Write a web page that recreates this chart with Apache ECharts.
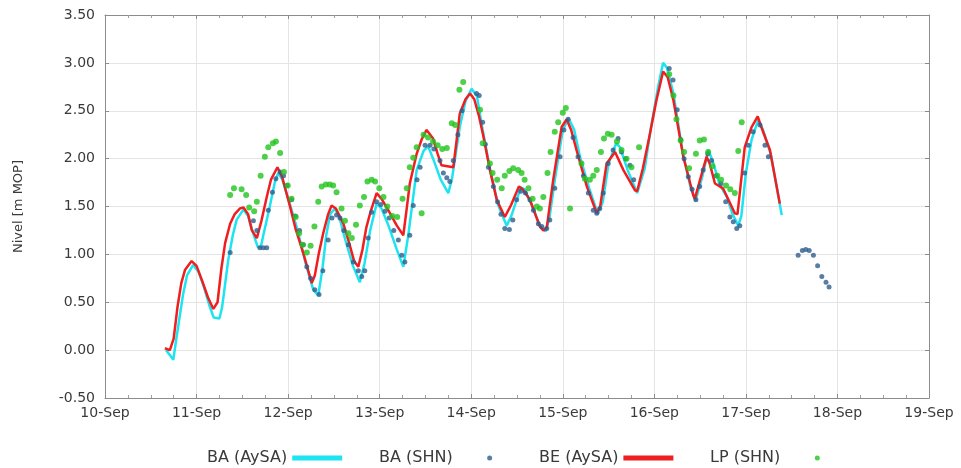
<!DOCTYPE html>
<html>
<head>
<meta charset="utf-8">
<script src="https://cdn.jsdelivr.net/npm/echarts@6/dist/echarts.min.js"></script>
<style>html,body{margin:0;padding:0;background:#fff}#c{width:961px;height:468px}</style>
</head>
<body>
<div id="c"></div>
<script>
// x values: hours since 10-Sep 00:00
var tickLabels = ['10-Sep','11-Sep','12-Sep','13-Sep','14-Sep','15-Sep','16-Sep','17-Sep','18-Sep','19-Sep'];
var seriesNames = ['BA (AySA)','BA (SHN)','BE (AySA)','LP (SHN)'];

var baAysa = [[16,0.0],[17,-0.05],[17.9,-0.10],[19,0.2],[20.5,0.59],[21.5,0.78],[23.1,0.89],[24.5,0.82],[26,0.65],[27.5,0.45],[28.5,0.34],[30,0.33],[30.7,0.45],[32.3,0.94],[33.5,1.2],[34.5,1.36],[36.3,1.47],[37.5,1.4],[39,1.2],[40,1.08],[40.8,1.07],[41.5,1.2],[43.2,1.5],[44.5,1.75],[45.4,1.85],[46.5,1.78],[48.5,1.52],[50.5,1.25],[52.5,0.92],[54.6,0.63],[55.9,0.57],[57,0.85],[58,1.2],[59,1.42],[60.3,1.48],[61.5,1.38],[63,1.15],[65,0.88],[66.8,0.71],[68,0.9],[69.5,1.25],[71.2,1.53],[72.5,1.48],[74.5,1.28],[76.5,1.05],[78.2,0.87],[79.5,1.2],[81.7,1.88],[83.5,2.08],[84.7,2.13],[86,2.0],[88,1.78],[90,1.64],[91,1.8],[93,2.33],[94.5,2.6],[96.1,2.73],[97.5,2.65],[99,2.3],[101,1.88],[103,1.52],[105.3,1.30],[106.5,1.4],[109,1.70],[110,1.68],[112,1.5],[114,1.3],[115.5,1.24],[116.5,1.38],[118,1.8],[120,2.3],[121.5,2.42],[123,2.3],[124.5,2.02],[127,1.68],[129.2,1.42],[130.5,1.55],[132,1.95],[134,2.16],[135,2.12],[137,1.88],[139.5,1.64],[141.5,1.9],[143,2.3],[145,2.75],[146.3,3.0],[147.3,2.95],[149,2.68],[151.5,2.05],[153.5,1.7],[154.8,1.56],[156.5,1.8],[158.2,2.09],[159.5,1.95],[161,1.74],[163,1.6],[164.5,1.42],[166,1.30],[166.8,1.4],[168,1.85],[169.5,2.2],[171.2,2.40],[172.5,2.3],[174.5,2.05],[177.4,1.41]];

var beAysa = [[15.7,0.02],[17,0.0],[18,0.12],[19,0.45],[20,0.7],[21,0.84],[22.7,0.93],[24,0.88],[25.5,0.72],[27,0.55],[28.4,0.43],[29.5,0.5],[30.5,0.85],[31.5,1.12],[32.8,1.32],[34,1.42],[35.4,1.48],[36.3,1.49],[37.5,1.42],[38.5,1.25],[39.8,1.17],[41,1.35],[42.4,1.6],[43.5,1.78],[45.2,1.91],[46.5,1.8],[48.5,1.5],[50,1.26],[52,1.01],[53.5,0.8],[54.2,0.70],[55,0.78],[56,1.0],[57.2,1.22],[58.5,1.42],[59.4,1.51],[60.5,1.48],[62.5,1.32],[64,1.12],[65.3,0.93],[66.4,0.87],[67.5,1.05],[68.5,1.28],[69.5,1.43],[71.2,1.64],[72.5,1.58],[74.7,1.43],[76.5,1.30],[78.2,1.20],[79,1.45],[79.9,1.74],[81.7,2.05],[83,2.2],[84.3,2.30],[86,2.21],[87.2,2.05],[88.2,1.93],[91.3,1.91],[92.2,2.2],[93,2.47],[94.5,2.62],[95.7,2.68],[96.8,2.62],[98,2.45],[99.2,2.23],[100.9,1.88],[102.7,1.57],[104.8,1.39],[106.5,1.52],[108.5,1.71],[109.5,1.68],[111.4,1.57],[114,1.29],[114.9,1.25],[115.8,1.28],[117.5,1.78],[119.7,2.33],[121,2.41],[122.2,2.30],[123.6,2.09],[126.3,1.71],[128.9,1.43],[129.8,1.5],[131.5,1.95],[133.7,2.07],[135.9,1.88],[138.9,1.67],[139.5,1.66],[141,1.9],[142.8,2.25],[144.5,2.6],[146.3,2.91],[147.5,2.85],[149,2.61],[151.6,2.02],[154.2,1.62],[154.6,1.58],[156,1.78],[157.7,2.02],[158.5,1.95],[159.9,1.74],[162,1.69],[165.1,1.43],[165.8,1.42],[167.7,2.12],[169.5,2.33],[171.1,2.44],[172.5,2.28],[174.3,2.09],[176.9,1.53]];

var baShn = [[32.8,1.02],[38.9,1.35],[39.8,1.25],[40.6,1.07],[41.5,1.07],[42.4,1.07],[42.8,1.46],[43.9,1.65],[44.8,1.79],[45.9,1.86],[46.8,1.82],[47.7,1.72],[48.9,1.57],[49.9,1.40],[51,1.25],[52,1.10],[52.9,0.87],[53.9,0.75],[55,0.63],[56.1,0.58],[57.1,0.83],[58.5,1.15],[59.5,1.38],[60.7,1.41],[61.6,1.38],[62.6,1.25],[63.8,1.10],[65.1,0.92],[66.4,0.83],[67.3,0.77],[68.1,0.83],[69,1.17],[69.9,1.44],[71.2,1.55],[72.3,1.52],[73.4,1.45],[74.5,1.38],[75.7,1.25],[76.9,1.15],[77.8,0.99],[78.6,0.92],[79.9,1.20],[80.8,1.51],[81.8,1.78],[82.6,1.91],[83.9,2.14],[85.2,2.14],[86.2,2.10],[87.8,1.98],[88.7,1.85],[89.6,1.80],[90.4,1.76],[91.3,1.98],[92.5,2.25],[93.6,2.50],[97.4,2.68],[98.1,2.66],[99,2.38],[99.7,2.15],[100.5,1.91],[101.8,1.71],[102.9,1.55],[103.8,1.42],[104.8,1.27],[106,1.26],[106.9,1.36],[107.9,1.57],[109,1.66],[110.2,1.64],[111.4,1.57],[112.3,1.46],[113.6,1.32],[114.5,1.29],[115.8,1.27],[116.6,1.36],[117.9,1.69],[119.3,2.02],[120.3,2.30],[121.4,2.41],[122.7,2.22],[124,2.02],[125.4,1.82],[126.7,1.64],[128,1.46],[128.9,1.43],[129.7,1.48],[130.6,1.64],[131.9,1.95],[133.2,2.09],[134.5,2.21],[135.4,2.07],[136.5,2.00],[137.6,1.93],[138.6,1.78],[147.9,2.94],[148.9,2.82],[150,2.51],[150.9,2.20],[151.8,2.00],[152.9,1.81],[153.9,1.68],[154.9,1.57],[155.9,1.71],[156.8,1.88],[158,2.05],[159,1.98],[160.2,1.82],[161.5,1.74],[162.7,1.55],[163.8,1.39],[164.7,1.34],[165.6,1.27],[166.4,1.30],[167.7,1.85],[168.6,2.14],[169.9,2.28],[171.7,2.35],[173,2.14],[173.9,2.02],[181.7,0.99],[182.8,1.04],[183.7,1.05],[184.6,1.04],[185.7,0.99],[186.8,0.88],[187.9,0.77],[189,0.71],[189.8,0.66]];

var lpShn = [[32.8,1.62],[33.8,1.69],[35.8,1.68],[37,1.62],[37.8,1.49],[39.1,1.45],[39.8,1.55],[40.8,1.82],[41.9,2.02],[42.8,2.12],[44,2.16],[44.8,2.18],[45.9,2.06],[46.9,1.86],[47.9,1.72],[48.9,1.58],[50,1.39],[50.9,1.22],[51.8,1.10],[52.9,1.02],[53.9,1.09],[54.9,1.29],[55.9,1.55],[56.8,1.71],[57.9,1.73],[58.9,1.73],[59.8,1.72],[60.7,1.65],[62,1.48],[62.9,1.35],[63.8,1.22],[64.7,1.17],[65.8,1.31],[66.8,1.51],[67.9,1.60],[68.8,1.76],[69.9,1.78],[70.8,1.76],[71.9,1.69],[73,1.60],[74,1.50],[75.3,1.40],[76.6,1.39],[78,1.58],[79.1,1.69],[79.9,1.91],[80.8,2.01],[81.7,2.12],[83,1.43],[83.5,2.25],[84.7,2.22],[86,2.18],[87.2,2.14],[88.4,2.10],[89.6,2.11],[90.9,2.37],[91.8,2.35],[92.9,2.72],[93.9,2.80],[98.3,2.51],[99,2.16],[100.9,1.95],[101.6,1.85],[102.8,1.78],[104,1.69],[104.8,1.82],[106,1.87],[107,1.90],[108.3,1.88],[109.2,1.85],[110,1.78],[111,1.69],[112.1,1.58],[113.2,1.50],[114,1.48],[114.9,1.60],[116,1.85],[116.8,2.07],[117.9,2.28],[118.8,2.38],[120,2.48],[120.8,2.53],[121.9,1.48],[124.9,1.95],[125.8,1.79],[127.1,1.78],[128,1.82],[128.9,1.88],[130,2.07],[130.8,2.21],[131.8,2.26],[132.8,2.25],[134.2,2.18],[135.4,2.09],[136.7,2.00],[138,1.91],[140,2.12],[147.9,2.88],[149,2.66],[149.8,2.41],[150.9,2.19],[151.8,2.07],[153.1,1.90],[154.9,2.05],[155.9,2.19],[157,2.20],[158.1,2.07],[159.2,1.92],[160.5,1.82],[161.5,1.78],[162.8,1.72],[163.9,1.68],[165.1,1.64],[166,2.08],[166.9,2.38]];

var FONT = 'DejaVu Sans';
var chart = echarts.init(document.getElementById('c'), null, {renderer: 'canvas'});
var xBase = {
  type: 'value', min: 0, max: 216, interval: 24,
  axisLine: {show: true, onZero: false, lineStyle: {color: '#8c8c8c', width: 1}},
  axisTick: {show: true, inside: true, length: 4, lineStyle: {color: '#8c8c8c'}},
  minorTick: {show: true, splitNumber: 4, length: 3, lineStyle: {color: '#a0a0a0'}}
};
var yBase = {
  type: 'value', min: -0.5, max: 3.5, interval: 0.5,
  axisLine: {show: true, onZero: false, lineStyle: {color: '#8c8c8c', width: 1}},
  axisTick: {show: true, inside: true, length: 4, lineStyle: {color: '#8c8c8c'}}
};
function legendItem(name, left, icon, w) {
  return {
    left: left, top: 445, align: 'right', itemWidth: w, itemHeight: 5,
    textStyle: {fontFamily: FONT, fontSize: 16, color: '#3a3a3a'},
    data: [{name: name, icon: icon}]
  };
}
var option = {
  backgroundColor: '#ffffff',
  animation: false,
  grid: {left: 105, right: 32, top: 15, bottom: 70, show: false},
  legend: [
    legendItem(seriesNames[0], 202, 'rect', 50),
    legendItem(seriesNames[1], 374, 'circle', 64),
    legendItem(seriesNames[2], 534, 'rect', 50),
    legendItem(seriesNames[3], 705, 'circle', 64)
  ],
  xAxis: [
    Object.assign({}, xBase, {
      position: 'bottom',
      axisLabel: {show: true, margin: 8, fontFamily: FONT, fontSize: 14, color: '#3a3a3a',
        formatter: function (v) { return tickLabels[Math.round(v / 24)]; }},
      splitLine: {show: true, lineStyle: {color: '#e4e4e4', width: 1}}
    }),
    Object.assign({}, xBase, {
      position: 'top', axisLabel: {show: false}, splitLine: {show: false}
    })
  ],
  yAxis: [
    Object.assign({}, yBase, {
      position: 'left',
      name: 'Nivel [m MOP]', nameLocation: 'middle', nameGap: 80, nameRotate: 90,
      nameTextStyle: {fontFamily: FONT, fontSize: 13, color: '#3a3a3a'},
      axisLabel: {show: true, margin: 10, fontFamily: FONT, fontSize: 14, color: '#3a3a3a',
        formatter: function (v) { return v.toFixed(2); }},
      splitLine: {show: true, lineStyle: {color: '#e4e4e4', width: 1}}
    }),
    Object.assign({}, yBase, {
      position: 'right', axisLabel: {show: false}, splitLine: {show: false}
    })
  ],
  series: [
    {name: seriesNames[0], type: 'line', data: baAysa, showSymbol: false, symbol: 'none', z: 2,
      itemStyle: {color: '#1de4f0'}, lineStyle: {color: '#1de4f0', width: 2.5}},
    {name: seriesNames[1], type: 'scatter', data: baShn, symbolSize: 5, z: 4,
      itemStyle: {color: '#2f5d8c'}},
    {name: seriesNames[2], type: 'line', data: beAysa, showSymbol: false, symbol: 'none', z: 3,
      itemStyle: {color: '#f01e1e'}, lineStyle: {color: '#f01e1e', width: 2.5}},
    {name: seriesNames[3], type: 'scatter', data: lpShn, symbolSize: 6, z: 5,
      itemStyle: {color: '#22c41e'}}
  ]
};
chart.setOption(option);
</script>
</body>
</html>
